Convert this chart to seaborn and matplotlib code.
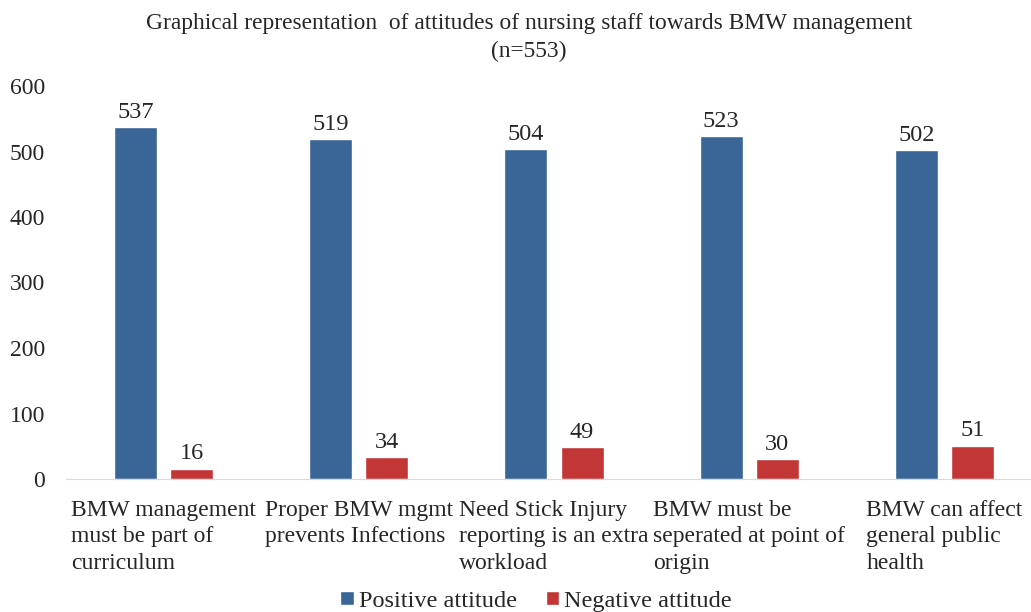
import pandas as pd
import matplotlib
matplotlib.use("Agg")
import matplotlib.pyplot as plt
import seaborn as sns

# data
statements = [
    "BMW management\nmust be part of\ncurriculum",
    "Proper BMW mgmt\nprevents Infections",
    "Need Stick Injury\nreporting is an extra\nworkload",
    "BMW must be\nseperated at point of\norigin",
    "BMW can affect\ngeneral public\nhealth",
]
positive = [537, 519, 504, 523, 502]
negative = [16, 34, 49, 30, 51]
series = ["Positive attitude", "Negative attitude"]
colors = ["#3A6597", "#C33636"]

df = pd.DataFrame({
    "statement": statements * 2,
    "count": positive + negative,
    "attitude": [series[0]] * 5 + [series[1]] * 5,
})

sns.set_style("white")
plt.rcParams["font.family"] = ["Liberation Serif", "DejaVu Serif"]

fig = plt.figure(figsize=(10.31, 6.12), dpi=100)
ax = fig.add_axes([66 / 1031, 1 - 479 / 612, 976 / 1031, 393 / 612])

sns.barplot(data=df, x="statement", y="count", hue="attitude",
            hue_order=series, palette=colors, width=0.575, gap=0.235,
            saturation=1, ax=ax)

for c in ax.containers:
    ax.bar_label(c, padding=3, fontsize=17.5)

ax.set_xlim(-0.5, 4.5)
ax.set_ylim(0, 600)
ax.set_yticks(range(0, 601, 100))
ax.set_xlabel("")
ax.set_ylabel("")
for s in ["top", "right", "left"]:
    ax.spines[s].set_visible(False)
ax.spines["bottom"].set_color("#D9D9D9")
ax.tick_params(axis="both", length=0, labelsize=17)
ax.tick_params(axis="y", pad=15)
ax.tick_params(axis="x", pad=15)
for t in ax.get_xticklabels():
    t.set_multialignment("left")
    t.set_linespacing(1.35)

handles, labels = ax.get_legend_handles_labels()
ax.get_legend().remove()
fig.legend(handles, labels, loc="lower center", bbox_to_anchor=(536 / 1031, -0.035),
           ncol=2, frameon=False, fontsize=17.5, handlelength=0.55, handleheight=0.55,
           handletextpad=0.2, columnspacing=1.2)

fig.text(529 / 1031, 1 - 24 / 612, "Graphical representation  of attitudes of nursing staff towards BMW management",
         ha="center", va="center", fontsize=16.8)
fig.text(529 / 1031, 1 - 51 / 612, "(n=553)", ha="center", va="center", fontsize=16.8)

fig.savefig("out.png", dpi=100)
